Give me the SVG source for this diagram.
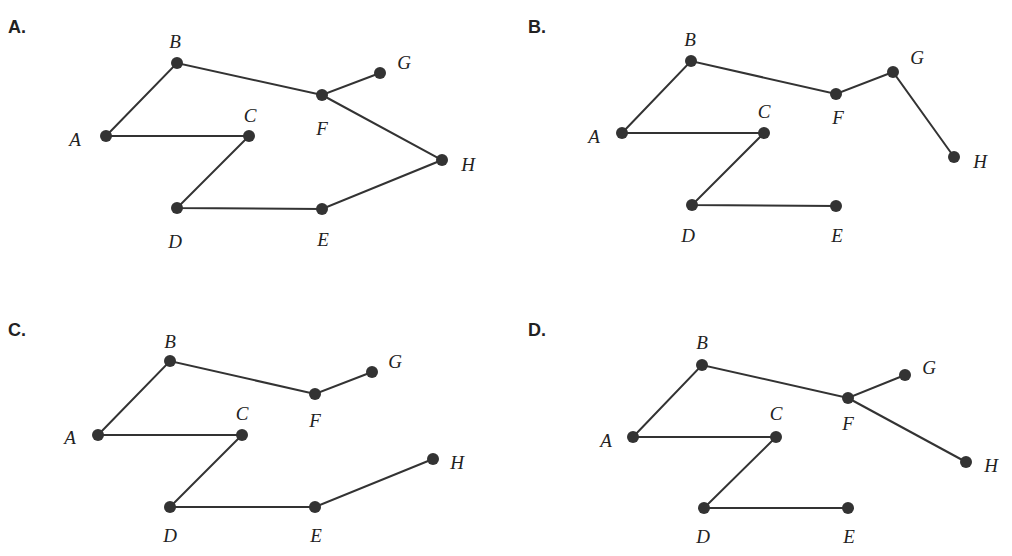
<svg xmlns="http://www.w3.org/2000/svg" width="1012" height="556" viewBox="0 0 1012 556">
<style>
.e{stroke:#333;stroke-width:2;fill:none}
.n{fill:#333}
.l{font-family:"Liberation Serif",serif;font-style:italic;font-size:19px;fill:#222;text-anchor:middle}
.h{font-family:"Liberation Sans",sans-serif;font-weight:bold;font-size:18px;fill:#222}
</style>
<rect width="1012" height="556" fill="#fff"/>
<g id="headers"><text class="h" x="8" y="33">A.</text><text class="h" x="528" y="33">B.</text><text class="h" x="8" y="336">C.</text><text class="h" x="528" y="336">D.</text></g>
<g id="connectors">
<polyline class="e" points="106,136 177,63 322,95 380,73"/><polyline class="e" points="322,95 442,160 322,209 177,208 249,136 106,136"/>
<polyline class="e" points="622,133 691,61 836,94 893,72 954,157"/><polyline class="e" points="622,133 764,133 692,205 836,206"/>
<polyline class="e" points="98,435 170,361 315,394 372,372"/><polyline class="e" points="98,435 242,435 170,507 315,507 433,459"/>
<polyline class="e" points="633,437 702,365 848,398 905,375"/><polyline class="e" points="848,398 966,462"/><polyline class="e" points="633,437 776,437 704,508 848,508"/>
</g>
<g id="nodesA" class="n"><circle cx="106" cy="136" r="6"/><circle cx="177" cy="63" r="6"/><circle cx="249" cy="136" r="6"/><circle cx="177" cy="208" r="6"/><circle cx="322" cy="209" r="6"/><circle cx="322" cy="95" r="6"/><circle cx="380" cy="73" r="6"/><circle cx="442" cy="160" r="6"/></g>
<g id="nodesB" class="n"><circle cx="622" cy="133" r="6"/><circle cx="691" cy="61" r="6"/><circle cx="764" cy="133" r="6"/><circle cx="692" cy="205" r="6"/><circle cx="836" cy="206" r="6"/><circle cx="836" cy="94" r="6"/><circle cx="893" cy="72" r="6"/><circle cx="954" cy="157" r="6"/></g>
<g id="nodesC" class="n"><circle cx="98" cy="435" r="6"/><circle cx="170" cy="361" r="6"/><circle cx="242" cy="435" r="6"/><circle cx="170" cy="507" r="6"/><circle cx="315" cy="507" r="6"/><circle cx="315" cy="394" r="6"/><circle cx="372" cy="372" r="6"/><circle cx="433" cy="459" r="6"/></g>
<g id="nodesD" class="n"><circle cx="633" cy="437" r="6"/><circle cx="702" cy="365" r="6"/><circle cx="776" cy="437" r="6"/><circle cx="704" cy="508" r="6"/><circle cx="848" cy="508" r="6"/><circle cx="848" cy="398" r="6"/><circle cx="905" cy="375" r="6"/><circle cx="966" cy="462" r="6"/></g>
<g id="labels" class="l">
<text x="175" y="48">B</text><text x="404" y="69">G</text><text x="250" y="122">C</text><text x="322" y="135">F</text><text x="75" y="146">A</text><text x="468" y="171">H</text><text x="175" y="248">D</text><text x="323" y="246">E</text>
<text x="690" y="46">B</text><text x="917" y="64">G</text><text x="764" y="118">C</text><text x="838" y="124">F</text><text x="594" y="143">A</text><text x="980" y="168">H</text><text x="688" y="242">D</text><text x="837" y="242">E</text>
<text x="170" y="348">B</text><text x="395" y="368">G</text><text x="242" y="420">C</text><text x="315" y="427">F</text><text x="70" y="444">A</text><text x="457" y="469">H</text><text x="170" y="542">D</text><text x="316" y="542">E</text>
<text x="702" y="349">B</text><text x="929" y="374">G</text><text x="776" y="420">C</text><text x="848" y="430">F</text><text x="606" y="447">A</text><text x="991" y="472">H</text><text x="703" y="543">D</text><text x="849" y="543">E</text>
</g>
</svg>
